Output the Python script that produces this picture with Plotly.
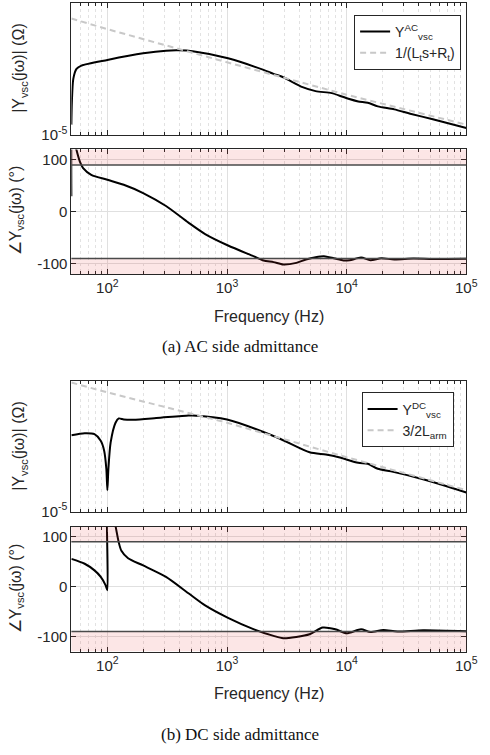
import plotly.graph_objects as go

# ---------------- data ----------------
# (a) AC side
ac_mag_f = [50, 50.5, 51.9, 55.2, 60.7, 100, 199, 309, 400, 516, 1020, 2020, 2450, 2950,
            4280, 5500, 7500, 9100, 10350, 12500, 15000, 18200, 25000, 34000, 52500, 100000]
ac_mag = [10**v for v in [-4.70, -4.0, -3.32, -3.02, -2.92, -2.75, -2.55, -2.47, -2.46, -2.49,
                          -2.70, -3.05, -3.17, -3.27, -3.57, -3.69, -3.75, -3.85, -3.92, -4.00,
                          -4.04, -4.15, -4.24, -4.37, -4.54, -4.80]]
ac_ref_f = [50, 100, 1000, 10000, 100000]
ac_ref = [10**v for v in [-1.50, -1.82, -2.82, -3.80, -4.70]]

ac_ph_f = [50, 50.3, 52, 55.2, 58.9, 62.7, 73.3, 100, 137, 199, 309, 476, 656, 1020, 1680,
           2020, 2450, 2950, 3800, 4570, 5500, 6450, 7800, 9400, 10600, 13200, 15800, 19500,
           25000, 36000, 52500, 100000]
ac_ph = [30, 175, 145, 118.7, 96.5, 83.8, 71, 61.5, 52, 36, 11, -21, -43, -65, -86,
         -94, -97, -101.6, -98.4, -92, -87.6, -85.7, -89.5, -94, -93.3, -88.3, -93.3, -89.5,
         -92, -90.2, -91, -90.5]

# (b) DC side
dc_mag_f = [50, 64.6, 78, 88, 94, 98, 100, 102, 106.5, 117, 124.5, 137, 165, 256, 476, 516,
            1000, 2630, 4900, 6700, 8600, 12500, 15000, 18200, 23500, 43500, 100000]
dc_mag = [10**v for v in [-2.68, -2.62, -2.65, -2.85, -3.15, -3.70, -4.35, -3.70, -2.90, -2.30,
                          -2.17, -2.20, -2.21, -2.16, -2.08, -2.08, -2.20, -2.75, -3.20, -3.27,
                          -3.35, -3.52, -3.55, -3.70, -3.78, -4.02, -4.42]]
dc_ref_f = [50, 100, 1000, 10000, 100000]
dc_ref = [10**v for v in [-1.08, -1.38, -2.30, -3.35, -4.35]]

dc_ph_f = [50, 64.6, 78, 88, 96.5, 100, 100.4, 110, 117, 124.5, 131, 149, 199, 309, 476, 656,
           1020, 1680, 2450, 2950, 4900, 6300, 8050, 10000, 13200, 15800, 20300, 26600, 43500,
           100000]
dc_ph = [55.8, 46, 32.7, 19.7, 3.2, -7, 175, 150, 121.5, 88.7, 72, 57, 42.6, 19.7, -13.2,
         -37.5, -62.5, -85.6, -98.6, -103.3, -95.4, -82, -85.5, -93.5, -85.5, -90.8, -86.8,
         -90, -87.5, -89.5]

x_major = [100, 1000, 10000, 100000]
x_major_text = ["10<sup>2</sup>", "10<sup>3</sup>", "10<sup>4</sup>", "10<sup>5</sup>"]
x_minor = [60, 70, 80, 90] + [m * 10**e for e in (2, 3, 4) for m in range(2, 10)]
ph_ticks = [-100, 0, 100]
ph_limits = [90, -90]

# ---------------- layout helpers ----------------
W, H = 490, 755
def py(px):
    return 1 - px / H

XL, XR = 73 / W, 477 / W
dom = {
    "y1": [py(136), py(3)],
    "y2": [py(277), py(151)],
    "y3": [py(517), py(385)],
    "y4": [py(658.5), py(532.5)],
}

fig = go.Figure()
BLACK = "#000000"
REF = "#c8c8c8"
curve = dict(color=BLACK, width=2, shape="spline", smoothing=0.7)

fig.add_trace(go.Scatter(x=ac_mag_f, y=ac_mag, mode="lines", xaxis="x", yaxis="y",
                         line=curve, name="Y<sup>AC</sup><sub>vsc</sub>", legend="legend"))
fig.add_trace(go.Scatter(x=ac_ref_f, y=ac_ref, mode="lines", xaxis="x", yaxis="y",
                         line=dict(color=REF, width=2, dash="6px,4px"),
                         name="1/(L<sub>t</sub>s+R<sub>t</sub>)", legend="legend"))
fig.add_trace(go.Scatter(x=ac_ph_f, y=ac_ph, mode="lines", xaxis="x2", yaxis="y2",
                         line=curve, showlegend=False))
fig.add_trace(go.Scatter(x=dc_mag_f, y=dc_mag, mode="lines", xaxis="x3", yaxis="y3",
                         line=curve, name="Y<sup>DC</sup><sub>vsc</sub>", legend="legend2"))
fig.add_trace(go.Scatter(x=dc_ref_f, y=dc_ref, mode="lines", xaxis="x3", yaxis="y3",
                         line=dict(color=REF, width=2, dash="6px,4px"),
                         name="3/2L<sub>arm</sub>", legend="legend2"))
fig.add_trace(go.Scatter(x=dc_ph_f, y=dc_ph, mode="lines", xaxis="x4", yaxis="y4",
                         line=curve, showlegend=False))

AX = "#262626"
GRID = "#e0e0e0"
tickfont = dict(family="Liberation Sans, Arial", size=15, color=AX)

def xaxis(anchor, labels):
    return dict(type="log", range=[1.69897, 5], domain=[XL, XR], anchor=anchor,
                tickvals=x_major, ticktext=x_major_text, showticklabels=labels,
                ticks="inside", ticklen=5, tickcolor=AX, showline=True, linecolor=AX,
                linewidth=1, mirror="ticks", showgrid=True, gridcolor=GRID, gridwidth=1,
                zeroline=False, tickfont=tickfont,
                minor=dict(tickvals=x_minor, ticks="inside", ticklen=3, tickcolor=AX,
                           showgrid=True, gridcolor="#e2e2e2", griddash="dot", gridwidth=1))

def magaxis(anchor, d):
    return dict(type="log", range=[-5, -1.03], domain=d, anchor=anchor,
                tickvals=[1e-5], ticktext=["10<sup>-5</sup>"], ticks="inside", ticklen=5,
                tickcolor=AX, showline=True, linecolor=AX, linewidth=1, mirror="ticks",
                showgrid=False, zeroline=False, tickfont=tickfont)

def phaxis(anchor, d, rng):
    return dict(range=rng, domain=d, anchor=anchor, tickvals=ph_ticks,
                ticktext=[str(v) for v in ph_ticks], ticks="inside", ticklen=5,
                tickcolor=AX, showline=True, linecolor=AX, linewidth=1, mirror="ticks",
                showgrid=True, gridcolor=GRID, zeroline=False, tickfont=tickfont)

legfont = dict(family="Liberation Sans, Arial", size=14, color=AX)
fig.update_layout(
    width=W, height=H, margin=dict(l=0, r=0, t=0, b=0),
    paper_bgcolor="white", plot_bgcolor="white",
    xaxis=xaxis("y", False), yaxis=magaxis("x", dom["y1"]),
    xaxis2=xaxis("y2", True), yaxis2=phaxis("x2", dom["y2"], [-120, 120]),
    xaxis3=xaxis("y3", False), yaxis3=magaxis("x3", dom["y3"]),
    xaxis4=xaxis("y4", True), yaxis4=phaxis("x4", dom["y4"], [-130, 120]),
    legend=dict(x=471.7 / W, y=py(15), xanchor="right", yanchor="top",
                bgcolor="white", bordercolor=AX, borderwidth=1, font=legfont,
                tracegroupgap=0, itemwidth=30),
    legend2=dict(x=464 / W, y=py(396.7), xanchor="right", yanchor="top",
                 bgcolor="white", bordercolor=AX, borderwidth=1, font=legfont,
                 tracegroupgap=0, itemwidth=30),
    showlegend=True,
)

# pink bands and +/-90 deg lines
PINK = "rgba(230,50,50,0.12)"
for xa, ya, lo in (("x2", "y2", -120), ("x4", "y4", -130)):
    fig.add_shape(type="rect", xref=xa + " domain", yref=ya, x0=0, x1=1,
                  y0=ph_limits[0], y1=120, fillcolor=PINK, line_width=0, layer="above")
    fig.add_shape(type="rect", xref=xa + " domain", yref=ya, x0=0, x1=1,
                  y0=lo, y1=ph_limits[1], fillcolor=PINK, line_width=0, layer="above")
    for v in ph_limits:
        fig.add_shape(type="line", xref=xa + " domain", yref=ya, x0=0, x1=1, y0=v, y1=v,
                      line=dict(color="#4a4a4a", width=1.5), layer="above")

lab = dict(family="Liberation Sans, Arial", size=16, color=AX)
ann = [
    dict(text="|Y<sub>vsc</sub>(jω)| (Ω)", x=20 / W, y=py(69), textangle=-90, font=lab),
    dict(text="∠Y<sub>vsc</sub>(jω) (°)", x=17 / W, y=py(213), textangle=-90, font=lab),
    dict(text="|Y<sub>vsc</sub>(jω)| (Ω)", x=20 / W, y=py(451), textangle=-90, font=lab),
    dict(text="∠Y<sub>vsc</sub>(jω) (°)", x=17 / W, y=py(595), textangle=-90, font=lab),
    dict(text="Frequency (Hz)", x=(73 + 477) / 2 / W, y=py(320), font=lab),
    dict(text="Frequency (Hz)", x=(73 + 477) / 2 / W, y=py(701), font=lab),
    dict(text="(a) AC side admittance", x=245 / W, y=py(350),
         font=dict(family="Liberation Serif, Times New Roman", size=17, color="#111")),
    dict(text="(b) DC side admittance", x=245 / W, y=py(742),
         font=dict(family="Liberation Serif, Times New Roman", size=17, color="#111")),
]
for a in ann:
    fig.add_annotation(xref="paper", yref="paper", showarrow=False,
                       xanchor="center", yanchor="middle", **a)

fig.write_html("out.html")
